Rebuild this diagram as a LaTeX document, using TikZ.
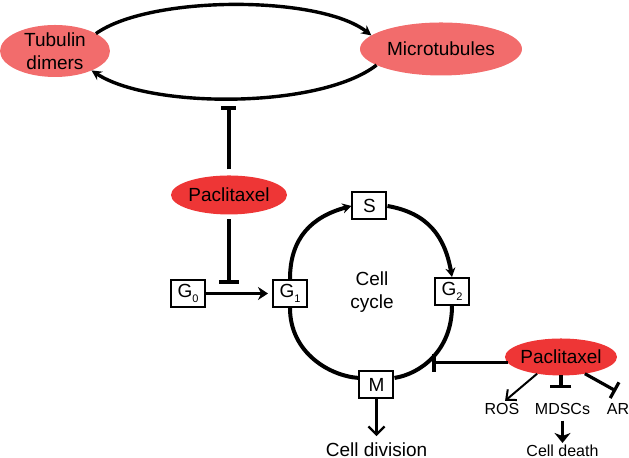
\documentclass[tikz,border=0pt]{standalone}
\usepackage{fontspec}
\setmainfont{Liberation Sans}
\usetikzlibrary{positioning,arrows.meta,shapes.geometric}
\definecolor{tubred}{RGB}{242,108,108}
\definecolor{paxred}{RGB}{238,54,54}
\newcommand{\phsub}[1]{\raisebox{-0.45ex}{\fontsize{5.5}{6}\selectfont #1}}

\begin{document}
\begin{tikzpicture}[
  x=0.5pt, y=0.5pt,
  every node/.style={font=\fontsize{9.5}{11.5}\selectfont},
  protein/.style={ellipse, fill=tubred, inner xsep=-8pt, inner ysep=-6pt, outer sep=0pt, align=center},
  drug/.style={ellipse, fill=paxred, inner xsep=-8pt, inner ysep=-6pt, outer sep=0pt, minimum width=58pt, minimum height=19.5pt},
  phase/.style={draw, line width=1pt, fill=white, minimum width=17pt, minimum height=13.5pt, inner sep=0pt},
  small/.style={font=\fontsize{8}{9.5}\selectfont, inner sep=0pt},
  loop/.style={line width=2pt},
  inhibit/.style={line width=1.8pt, -{Bar[width=10pt]}}
]
\useasboundingbox (0,0) rectangle (629,458);

% Tubulin / microtubules
\node[protein, minimum width=55pt, minimum height=26pt] (tub) at (55,407) {Tubulin\\dimers};
\node[protein, minimum width=81pt, minimum height=26.5pt] (mic) at (441,409) {Microtubules};
\draw[line width=1.7pt, -{Stealth[length=5pt,width=5pt]}] (tub.23) .. controls (150,463) and (320,463) .. (mic.169);
\draw[line width=1.7pt, -{Stealth[length=5pt,width=5pt]}] (mic.194) .. controls (320,349) and (150,349) .. (tub.-28);

% Drug nodes
\node[drug] (pax1) at (229,263) {Paclitaxel};
\node[drug, minimum width=56pt, minimum height=18.5pt] (pax2) at (561,101) {Paclitaxel};

% Cell cycle
\node[phase] (g0) at (188,164.5) {G\phsub{0}};
\node[phase] (g1) at (290,164.5) {G\phsub{1}};
\node[phase] (s) at (369.5,252) {S};
\node[phase] (g2) at (452,166.5) {G\phsub{2}};
\node[phase] (m) at (376.5,73.5) {M};
\node[align=center] (cyc) at (372,166) {Cell\\cycle};

\draw[loop, -{Stealth[length=4.5pt,width=5pt]}] (g1.north) to[out=90,in=195,looseness=1.1] (s.west);
\draw[loop, -{Stealth[length=4.5pt,width=5pt]}] (s.east) to[out=-10,in=100,looseness=1.1] (g2.north);
\draw[loop] (g2.south) .. controls (452,107) and (420,84) .. (m.20);
\draw[loop] (m.160) .. controls (330,82) and (290,105) .. (g1.south);
\draw[line width=1.4pt, -{Stealth[length=5pt,width=6.5pt]}, shorten >=2pt] (g0) -- (g1);

% Outputs
\node[anchor=base] (div) at (376.5,1) {Cell division};
\node[small, anchor=base] (ros) at (502,43) {ROS};
\node[small, anchor=base] (mdsc) at (562.5,43) {MDSCs};
\node[small, anchor=base] (ar) at (618,43) {AR};
\node[small, anchor=base] (death) at (562.5,1) {Cell death};

\draw[line width=1.2pt, -{Straight Barb[length=4pt,width=8pt]}] (m) -- (div);
\draw[line width=1.6pt, -{Stealth[length=5pt,width=8pt,inset=1.5pt]}, shorten <=2.5pt, shorten >=1pt] (mdsc) -- (death);

% Inhibitions
\coordinate (hit1) at (229,352);
\coordinate (hit2) at (229,174);
\coordinate (hit3) at (432,94.5);
\coordinate (hit4) at (561,70);
\coordinate (hit5) at (616,67);

\draw[inhibit, -{Bar[width=7.5pt]}, shorten <=3pt] (pax1) -- (hit1);
\draw[inhibit, shorten <=2.5pt] (pax1) -- (hit2);
\draw[inhibit, -{Bar[width=9pt]}] (pax2.186) -- (pax2.186 -| hit3);
\draw[line width=1.6pt, -{Bar[width=10.5pt]}] (pax2.south) -- (hit4);
\draw[line width=1.6pt, -{Bar[width=9pt]}] (pax2.-35) -- (hit5);
\draw[line width=1pt, -{Straight Barb[length=4pt,width=7pt]}, shorten >=2pt] (pax2.215) -- (ros.north);

\end{tikzpicture}
\end{document}
